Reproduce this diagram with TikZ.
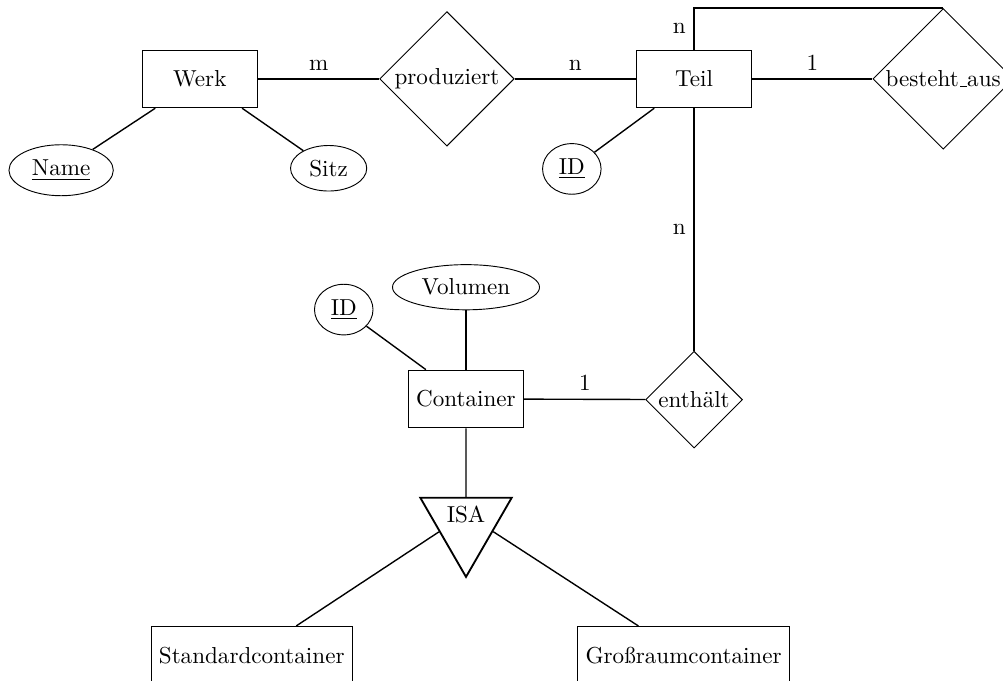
\documentclass[tikz,border=0pt]{standalone}
\usetikzlibrary{shapes.geometric}

\newcommand{\shortbar}{\leavevmode\kern.06em\vbox{\hrule width.3em}}

\begin{document}
\begin{tikzpicture}[
        entity/.style={draw, rectangle, minimum width=5em, minimum height=2.5em},
        relation/.style={draw, diamond, aspect=1, inner sep=1pt},
        attribute/.style={draw, ellipse},
        isabox/.style={draw, thick, isosceles triangle, isosceles triangle apex angle=60, shape border rotate=-90},
        link/.style={semithick}
    ]
        \useasboundingbox (0,0) rectangle (15.26,-10.36);

        % Draw the entities
        \node[entity] (werk) at (3.04,-1.2) {Werk};
        \node[entity] (teil) at (10.56,-1.2) {Teil};
        \node[entity] (container) at (7.09,-6.07) {Container};
        \node[entity] (standard) at (3.83,-9.97) {Standardcontainer};
        \node[entity] (gross) at (10.4,-9.97) {Großraumcontainer};

        % Draw the relations
        \node[relation] (produziert) at (6.8,-1.2) {produziert};
        \node[relation] (besteht) at (14.35,-1.2) {besteht\shortbar aus};
        \node[relation] (enthaelt) at (10.56,-6.08) {enthält};

        % Draw the attributes
        \node[attribute] (name) at (0.93,-2.59) {\underline{Name}};
        \node[attribute] (sitz) at (5.0,-2.56) {Sitz};
        \node[attribute] (teilid) at (8.7,-2.57) {\underline{ID}};
        \node[attribute] (volumen) at (7.09,-4.37) {Volumen};
        \node[attribute] (contid) at (5.23,-4.71) {\underline{ID}};

        % Draw the ISA triangle
        \node[isabox] (isa) at (7.09,-7.82) {ISA};

        % Draw the attribute lines
        \draw[link] (werk) -- (name);
        \draw[link] (werk) -- (sitz);
        \draw[link] (teil) -- (teilid);
        \draw[link] (container) -- (volumen);
        \draw[link] (container) -- (contid);

        % Draw the relation lines
        \draw[link] (werk) -- (produziert) node[midway,above] {m};
        \draw[link] (produziert) -- (teil) node[midway,above] {n};
        \draw[link] (teil) -- (besteht) node[midway,above] {1};
        \draw[link] (teil.north) |- (besteht.north) node[pos=0.25,left] {n};
        \draw[link] (teil) -- (enthaelt) node[midway,left] {n};
        \draw[link] (container) -- (enthaelt) node[midway,above] {1};

        % Draw the ISA lines
        \draw[link] (container) -- (isa);
        \draw[link] (isa) -- (standard);
        \draw[link] (isa) -- (gross);
\end{tikzpicture}
\end{document}
